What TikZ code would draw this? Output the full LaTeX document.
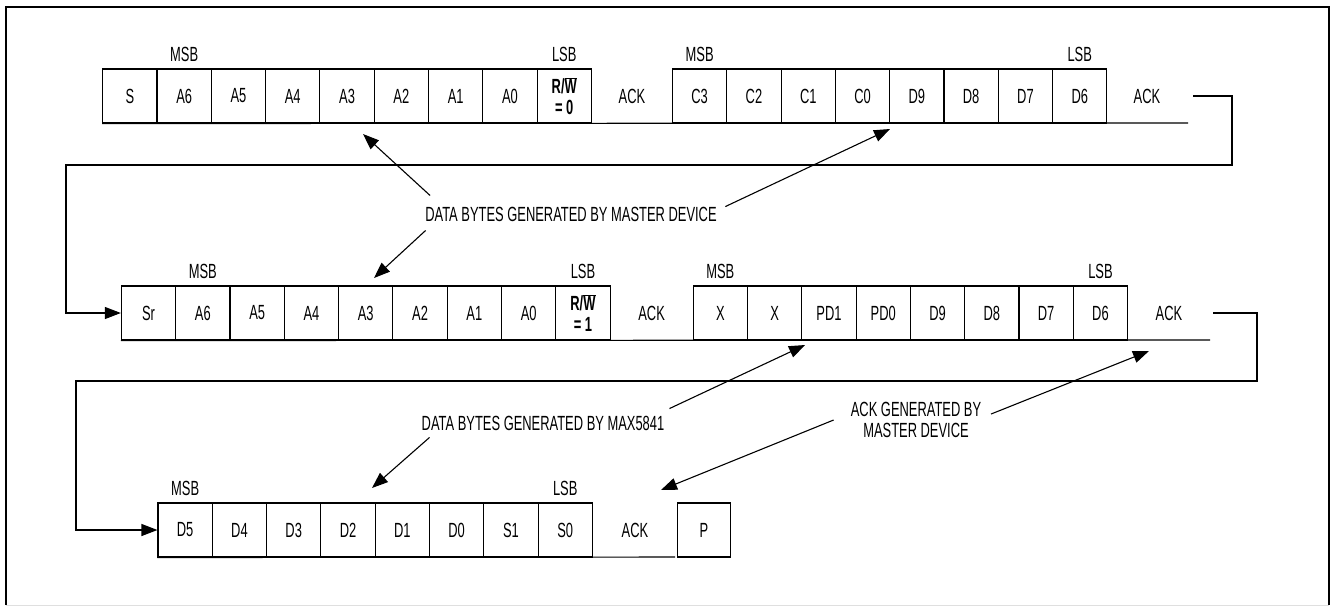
\documentclass[tikz,border=0pt]{standalone}
\usepackage{fontspec}
\setmainfont{Liberation Sans}[FakeStretch=0.63]
\usetikzlibrary{arrows.meta}
\newcommand\dfont{\fontsize{20.5}{20.7}\selectfont}
\begin{document}
\begin{tikzpicture}[x=1pt,y=-1pt,
  ln/.style={line width=1.1pt},
  bit/.style={draw,line width=1.1pt,minimum width=54.3pt,minimum height=54pt,inner sep=0pt,font=\dfont},
  rwbit/.style={bit,align=center,font=\dfont\bfseries},
  lbl/.style={inner sep=0pt,font=\dfont},
  arr/.style={line width=1.1pt,-{Triangle[length=16pt,width=12pt]}}]
\useasboundingbox (0,0) rectangle (1330,606);
% frame
\draw[line width=2pt] (6,605) -- (6,7) -- (1329,7) -- (1329,605);
\draw[gray!25,line width=1pt] (6,605) -- (1329,605);

% ---------- row 1
\foreach \t [count=\i from 0] in {S,A6,A5,A4,A3,A2,A1,A0}
  \node[bit] (ra\i) at ({129.85+54.3*\i},96) {\t};
\node[rwbit] (rarw) at (564.25,96) {R/$\overline{\mbox{W}}$\\= 0};
\foreach \t [count=\i from 0] in {C3,C2,C1,C0,D9,D8,D7,D6}
  \node[bit] (rb\i) at ({699.65+54.3*\i},96) {\t};
\node[lbl] (msba) at ([yshift=14pt]ra1.north) {MSB};
\node[lbl] (lsba) at ([yshift=14pt]rarw.north) {LSB};
\node[lbl] (msbb) at ([yshift=14pt]rb0.north) {MSB};
\node[lbl] (lsbb) at ([yshift=14pt]rb7.north) {LSB};
\node[lbl] (acka) at (632,96) {ACK};
\node[lbl] (ackb) at (1147,96) {ACK};
\coordinate (enda) at (1188,123);
\draw[ln] (ra0.south west) -- (enda);

% ---------- row 2
\foreach \t [count=\i from 0] in {Sr,A6,A5,A4,A3,A2,A1,A0}
  \node[bit] (rc\i) at ({148.55+54.3*\i},313) {\t};
\node[rwbit] (rcrw) at (582.95,313) {R/$\overline{\mbox{W}}$\\= 1};
\foreach \t [count=\i from 0] in {X,X,PD1,PD0,D9,D8,D7,D6}
  \node[bit] (rd\i) at ({720.35+54.3*\i},313) {\t};
\node[lbl] (msbc) at ([yshift=14pt]rc1.north) {MSB};
\node[lbl] (lsbc) at ([yshift=14pt]rcrw.north) {LSB};
\node[lbl] (msbd) at ([yshift=14pt]rd0.north) {MSB};
\node[lbl] (lsbd) at ([yshift=14pt]rd7.north) {LSB};
\node[lbl] (ackc) at (651.6,313) {ACK};
\node[lbl] (ackd) at (1169,313) {ACK};
\coordinate (endc) at (1210,340);
\draw[ln] (rc0.south west) -- (endc);

% ---------- row 3
\foreach \t [count=\i from 0] in {D5,D4,D3,D2,D1,D0,S1,S0}
  \node[bit] (re\i) at ({185.15+54.3*\i},530) {\t};
\node[lbl] (msbe) at ([yshift=14pt]re0.north) {MSB};
\node[lbl] (lsbe) at ([yshift=14pt]re7.north) {LSB};
\node[lbl] (acke) at (635,530) {ACK};
\node[bit,minimum width=53.6pt] (pbox) at (704,530) {P};
\coordinate (ende) at (675,557);
\draw[ln] (re0.south west) -- (ende);

% ---------- flow connectors
\coordinate (ca) at (1193,96);
\draw[arr] (ca) -- (1232,96) -- (1232,165) -- (66,165) |- (rc0.west);
\coordinate (cc) at (1213,313);
\draw[arr] (cc) -- (1257,313) -- (1257,381) -- (76,381) |- (re0.west);

% ---------- annotations
\node[lbl] (master) at (571,214) {DATA BYTES GENERATED BY MASTER DEVICE};
\coordinate (t1) at (363,134);
\coordinate (t2) at (890,129);
\coordinate (t3) at (374,278);
\draw[arr] ([shift={(5,-11)}]master.north west) -- (t1);
\draw[arr] ([shift={(8.5,0)}]master.north east) -- (t2);
\draw[arr] ([shift={(0.5,9)}]master.south west) -- (t3);

\node[lbl] (slave) at (543,423) {DATA BYTES GENERATED BY MAX5841};
\coordinate (t4) at (805,345);
\coordinate (t5) at (372,488);
\draw[arr] ([shift={(5,-7)}]slave.north east) -- (t4);
\draw[arr] ([shift={(8,7)}]slave.south west) -- (t5);

\node[lbl,align=center] (ackm) at (916,420) {ACK GENERATED BY\\MASTER DEVICE};
\coordinate (t6) at (1149,351);
\coordinate (t7) at (661,490);
\draw[arr] ([shift={(9.7,-6)}]ackm.east) -- (t6);
\draw[arr] ([shift={(-17,0)}]ackm.west) -- (t7);
\end{tikzpicture}
\end{document}
